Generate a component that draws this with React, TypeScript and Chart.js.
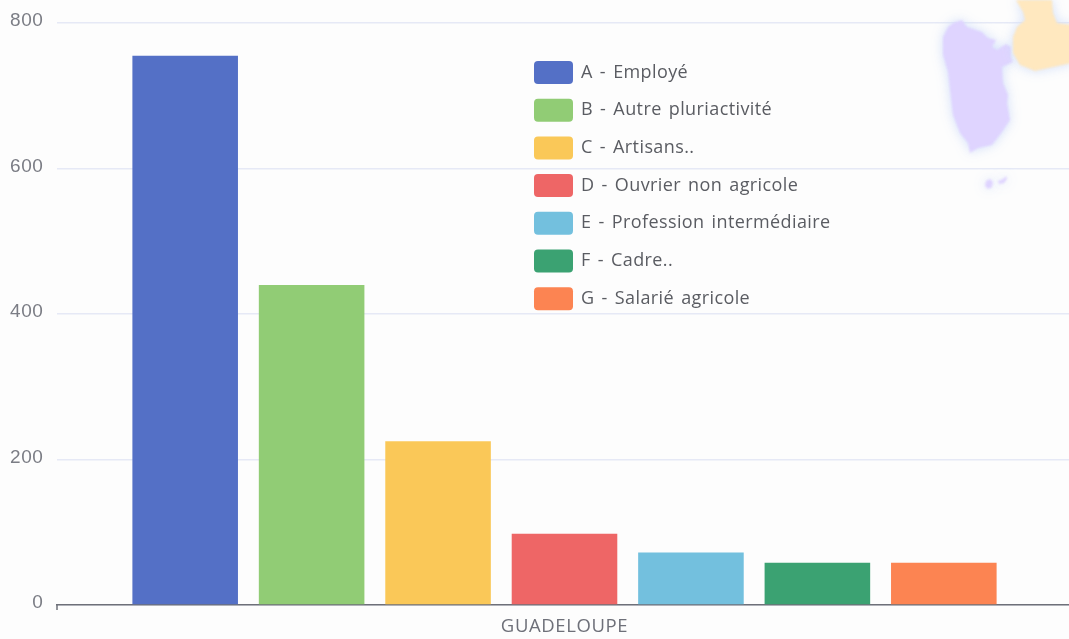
import React, { useEffect, useRef } from "react";
import { Chart, registerables } from "chart.js";

Chart.register(...registerables);

const categories = ["GUADELOUPE"];
const seriesNames = [
  "A - Employé",
  "B - Autre pluriactivité",
  "C - Artisans..",
  "D - Ouvrier non agricole",
  "E - Profession intermédiaire",
  "F - Cadre..",
  "G - Salarié agricole",
];
const seriesValues = [755, 440, 225, 98, 72, 58, 58];
const seriesColors = ["#5470c6", "#91cc75", "#fac858", "#ee6666", "#73c0de", "#3ba272", "#fc8452"];

// Decorative backdrop map outlines (page pixels)
const purpleIsland = [[953,23],[962,20],[967,27],[982,32],[988,38],[996,40],[992,47],[997,50],[1006,44],[1011,47],[1011,57],[1013,62],[1002,67],[1003,83],[1008,95],[1007,103],[1010,120],[1002,132],[992,145],[978,148],[970,153],[968,143],[960,133],[953,115],[948,72],[943,55],[943,37],[948,27]];
const orangeIsland = [[1016,0],[1052,0],[1053,13],[1057,23],[1072,25],[1072,63],[1035,71],[1020,65],[1013,53],[1013,37],[1017,27],[1025,20],[1023,12]];
const islet1 = [[986,181],[990,179],[993,182],[992,187],[988,189],[985,186]];
const islet2 = [[998,181],[1003,179],[1006,176],[1007,179],[1004,183],[999,184]];

const textStylePlugin = {
  id: "textStyle",
  beforeDraw(chart: any) {
    chart.ctx.letterSpacing = "0.6px";
  },
};

const mapPlugin = {
  id: "mapBackdrop",
  afterDatasetsDraw(chart: any) {
    const ctx = chart.ctx;
    const shape = (pts: number[][], color: string) => {
      ctx.beginPath();
      pts.forEach((p, i) => (i ? ctx.lineTo(p[0], p[1]) : ctx.moveTo(p[0], p[1])));
      ctx.closePath();
      ctx.fillStyle = color;
      ctx.shadowColor = "rgba(205,220,250,0.9)";
      ctx.shadowBlur = 12;
      ctx.fill();
    };
    ctx.save();
    ctx.filter = "blur(1px)";
    shape(purpleIsland, "#dfd4ff");
    shape(orangeIsland, "#ffe8bf");
    shape(islet1, "#dfd4ff");
    shape(islet2, "#dfd4ff");
    ctx.restore();
  },
};

const legendPlugin = {
  id: "insetLegend",
  afterDraw(chart: any) {
    const ctx = chart.ctx;
    ctx.save();
    const x = chart.scales.x;
    ctx.strokeStyle = "#6e7079";
    ctx.lineWidth = 1.5;
    ctx.beginPath();
    ctx.moveTo(x.left, x.top);
    ctx.lineTo(x.left, x.top + 5);
    ctx.stroke();
    ctx.font = "18px 'Open Sans'";
    ctx.letterSpacing = "0.4px";
    ctx.wordSpacing = "2px";
    ctx.textBaseline = "middle";
    ctx.textAlign = "left";
    chart.data.datasets.forEach((ds: any, i: number) => {
      const cy = 72.5 + i * 37.7;
      ctx.beginPath();
      ctx.roundRect(534, cy - 11.5, 39, 23, 4);
      ctx.fillStyle = ds.backgroundColor;
      ctx.fill();
      ctx.fillStyle = "#5a5c62";
      ctx.fillText(ds.label, 581, cy);
    });
    ctx.restore();
  },
};

export default function App() {
  const ref = useRef<HTMLCanvasElement>(null);
  useEffect(() => {
    document.body.style.background = "#fdfdfd";
    const chart = new Chart(ref.current!, {
      type: "bar",
      data: {
        labels: categories,
        datasets: seriesNames.map((name, i) => ({
          label: name,
          data: [seriesValues[i]],
          backgroundColor: seriesColors[i],
          borderWidth: 0,
          categoryPercentage: 0.872,
          barPercentage: 0.835,
        })),
      },
      options: {
        responsive: false,
        animation: false,
        layout: { padding: { top: 23, right: 0, left: 0, bottom: 0 } },
        plugins: {
          tooltip: { enabled: false },
          title: { display: false },
          legend: { display: false },
        },
        scales: {
          x: {
            grid: { display: false },
            border: { color: "#6e7079", width: 1.5 },
            ticks: { color: "#6e7079", font: { family: "'Open Sans'", size: 18.5 }, padding: 3 },
            afterFit: (s: any) => { s.height = 34; },
          },
          y: {
            min: 0,
            max: 800,
            ticks: {
              stepSize: 200,
              color: "#7b7d85",
              font: { family: "'Liberation Sans'", size: 19, lineHeight: 1 },
              padding: 13.5,
              labelOffset: -2,
            },
            grid: { drawTicks: false, color: "#e6e9f6", lineWidth: 1.5 },
            border: { display: false },
            afterFit: (s: any) => {
              s.width = 57;
              s.paddingTop = 0;
              s.paddingBottom = 0;
            },
          },
        },
      } as any,
      plugins: [textStylePlugin, mapPlugin, legendPlugin],
    });
    return () => chart.destroy();
  }, []);
  return (
    <div style={{ position: "fixed", left: 0, top: 0, width: 1069, height: 639, overflow: "hidden", background: "#fdfdfd" }}>
      <canvas ref={ref} width={1072} height={639} style={{ display: "block", width: 1072, height: 639, filter: "blur(0.5px)" }} />
    </div>
  );
}
